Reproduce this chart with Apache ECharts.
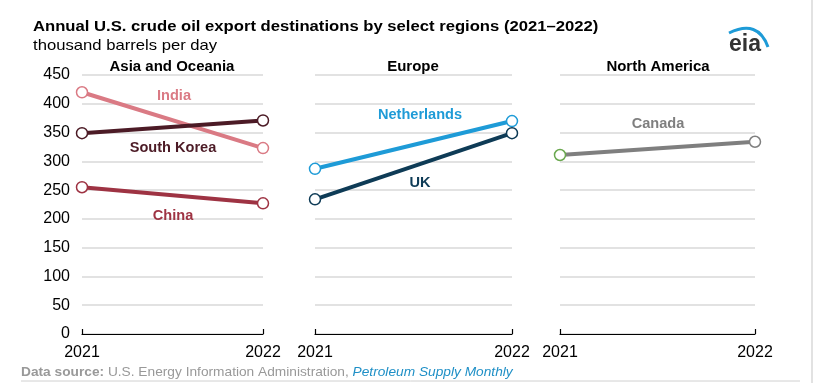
<!DOCTYPE html>
<html><head><meta charset="utf-8">
<script src="https://cdn.jsdelivr.net/npm/echarts@6/dist/echarts.min.js"></script>
<style>html,body{margin:0;padding:0;background:#fff}#c{width:816px;height:383px}</style>
</head><body><div id="c"></div>
<script>
var years = ['2021', '2022'];
var yTicks = [0, 50, 100, 150, 200, 250, 300, 350, 400, 450];
var panels = ['Asia and Oceania', 'Europe', 'North America'];
var india = [420, 323];
var southKorea = [349, 371];
var china = [255, 227];
var netherlands = [287, 370];
var uk = [234, 349];
var canada = [311, 334];

var font = '"Liberation Sans", Arial, sans-serif';
var grids = [
  {left: 82, width: 181, top: 75, height: 259},
  {left: 315, width: 197, top: 75, height: 259},
  {left: 560, width: 195, top: 75, height: 259}
];
var xAxes = grids.map(function(g, i){
  return {type:'category', gridIndex:i, data:years, boundaryGap:false,
    axisLine:{lineStyle:{color:'#000', width:1.2}},
    axisTick:{show:true, inside:true, length:5, lineStyle:{color:'#000', width:1.2}},
    axisLabel:{color:'#000', fontSize:16, fontFamily:font, margin:11}};
});
var yAxes = grids.map(function(g, i){
  return {type:'value', gridIndex:i, min:yTicks[0], max:yTicks[yTicks.length-1], interval:50,
    axisLine:{show:false}, axisTick:{show:false},
    axisLabel:{show:i===0, color:'#000', fontSize:16, fontFamily:font, margin:12},
    splitLine:{show:true, lineStyle:{color:'#d9d9d9', width:1.5}}};
});
function ser(name, data, color, gi, firstBorder){
  return {name:name, type:'line', xAxisIndex:gi, yAxisIndex:gi,
    data: data.map(function(v, k){
      var d = {value:v};
      if (k===0 && firstBorder) d.itemStyle = {borderColor:firstBorder};
      return d;
    }),
    lineStyle:{color:color, width:4}, symbol:'circle', symbolSize:11,
    itemStyle:{color:'#fff', borderColor:color, borderWidth:1.5}, z:3, animation:false};
}
var series = [
  ser('India', india, '#da7a84', 0),
  ser('South Korea', southKorea, '#4c1b26', 0),
  ser('China', china, '#9e3343', 0),
  ser('Netherlands', netherlands, '#1e9bd7', 1),
  ser('UK', uk, '#0e3b56', 1),
  ser('Canada', canada, '#7f7f7f', 2, '#6aa84f')
];
function txt(x, y, s, color, size, sx){
  return {type:'text', x:x, y:y, scaleX:sx || 1.04,
    style:{text:s, fill:color, font:'bold ' + (size || 14) + 'px ' + font, textAlign:'center', textVerticalAlign:'middle'}, z:10};
}
var graphic = [
  {type:'text', x:33, y:19, scaleX:1.11, style:{text:'Annual U.S. crude oil export destinations by select regions (2021\u20132022)', fill:'#000', font:'bold 15px ' + font}},
  {type:'text', x:33, y:38, scaleX:1.11, style:{text:'thousand barrels per day', fill:'#000', font:'15px ' + font}},
  {type:'text', x:745, y:45, style:{text:'eia', fill:'#333', font:'bold 23px ' + font, textAlign:'center', textVerticalAlign:'middle'}},
  {type:'bezierCurve', shape:{x1:729, y1:33, x2:768, y2:47, cpx1:758, cpy1:19}, style:{fill:null, stroke:'#1e9bd7', lineWidth:3}},
  txt(172, 67, panels[0], '#000', 14, 1.07),
  txt(413, 67, panels[1], '#000', 14, 1.07),
  txt(658, 67, panels[2], '#000', 14, 1.07),
  txt(174, 96, 'India', '#da7a84'),
  txt(173, 148, 'South Korea', '#4c1b26'),
  txt(173, 216, 'China', '#9e3343'),
  txt(420, 115, 'Netherlands', '#1e9bd7'),
  txt(420, 183, 'UK', '#0e3b56'),
  txt(658, 124, 'Canada', '#7f7f7f'),
  {type:'text', x:21, y:366, scaleX:1.055, style:{
    text:'{b|Data source:} {r|U.S. Energy Information Administration,} {i|Petroleum Supply Monthly}',
    font:'13px ' + font,
    rich:{
      b:{fill:'#999', fontWeight:'bold', fontSize:13, fontFamily:font},
      r:{fill:'#999', fontSize:13, fontFamily:font},
      i:{fill:'#1e8fc6', fontStyle:'italic', fontSize:13, fontFamily:font}
    }}},
  {type:'line', shape:{x1:21, y1:381, x2:800, y2:381}, style:{stroke:'#d0d0d0', lineWidth:1}},
  {type:'line', shape:{x1:812, y1:0, x2:812, y2:383}, style:{stroke:'#d8d8d8', lineWidth:1.5}}
];
var chart = echarts.init(document.getElementById('c'), null, {renderer:'canvas'});
chart.setOption({animation:false, grid:grids, xAxis:xAxes, yAxis:yAxes, series:series, graphic:graphic});
</script></body></html>
